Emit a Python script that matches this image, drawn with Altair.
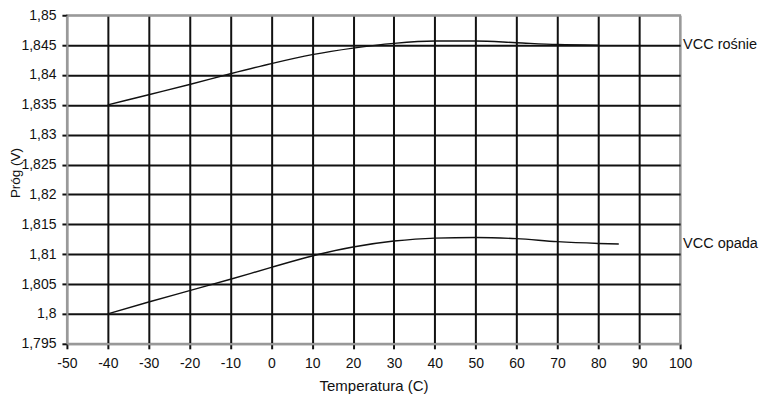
import altair as alt
import pandas as pd

temps_up = [-40, -30, -20, -10, 0, 10, 20, 30, 40, 50, 60, 70, 80]
vcc_up = [1.8350, 1.8367, 1.8384, 1.8402, 1.8419, 1.8434, 1.8445, 1.8453, 1.8457, 1.8457, 1.8454, 1.8451, 1.8450]
temps_down = [-40, -30, -20, -10, 0, 10, 20, 30, 40, 50, 60, 70, 80, 85]
vcc_down = [1.8000, 1.8020, 1.8039, 1.8058, 1.8078, 1.8097, 1.8112, 1.8122, 1.8127, 1.8128, 1.8126, 1.8121, 1.8118, 1.8117]
series_names = ["VCC rośnie", "VCC opada"]
x_ticks = [-50, -40, -30, -20, -10, 0, 10, 20, 30, 40, 50, 60, 70, 80, 90, 100]
y_ticks = [1.795, 1.8, 1.805, 1.81, 1.815, 1.82, 1.825, 1.83, 1.835, 1.84, 1.845, 1.85]

df = pd.concat([
    pd.DataFrame({"t": temps_up, "v": vcc_up, "s": series_names[0]}),
    pd.DataFrame({"t": temps_down, "v": vcc_down, "s": series_names[1]}),
])
ends = pd.DataFrame({"s": series_names, "v": [vcc_up[-1], vcc_down[-1]]})

FONT = "Liberation Sans"
W, H = 614, 329

xscale = alt.Scale(domain=[-50, 100], nice=False, zero=False)
yscale = alt.Scale(domain=[1.795, 1.85], nice=False, zero=False)

xaxis = alt.Axis(
    values=x_ticks, tickCount=len(x_ticks), title="Temperatura (C)", tickSize=5, labelPadding=8,
    labelExpr="toString(datum.value)", labelOverlap=False, labelFlush=False,
    titlePadding=8, labelFontSize=14, titleFontSize=15,
    gridColor=alt.condition("datum.value <= -49.9 || datum.value >= 99.9", alt.value("#999999"), alt.value("#111111")),
)
yaxis = alt.Axis(
    values=y_ticks, tickCount=len(y_ticks), title="Próg (V)", tickSize=5, labelPadding=6,
    labelExpr="replace(format(datum.value, '.4~f'), '.', ',')",
    labelOverlap=False, labelFlush=False,
    labelFontSize=14, titleFontSize=13.5,
    titleX=-51, titleY=H / 2 - 7, titleAngle=-90, titleBaseline="middle", titleAlign="center",
    gridColor=alt.condition("datum.value <= 1.7951 || datum.value >= 1.8499", alt.value("#999999"), alt.value("#111111")),
)

lines = alt.Chart(df).mark_line(color="#111111", strokeWidth=1.4, interpolate="monotone").encode(
    x=alt.X("t:Q", scale=xscale, axis=xaxis),
    y=alt.Y("v:Q", scale=yscale, axis=yaxis),
    detail="s:N",
)

labels = alt.Chart(ends).mark_text(align="left", baseline="middle", font=FONT, fontSize=14.5, color="#111111").encode(
    x=alt.value(W + 3),
    y=alt.Y("v:Q", scale=yscale),
    text="s:N",
)

chart = alt.layer(lines, labels).properties(
    width=W, height=H,
    autosize=alt.AutoSizeParams(type="none"),
    padding={"left": 59, "top": 7, "right": 80, "bottom": 53},
).configure_view(
    stroke="#999999", strokeWidth=2
).configure_axis(
    grid=True, gridWidth=2, gridOpacity=1,
    domainColor="#999999", domainWidth=2,
    tickColor="#111111", tickWidth=2,
    labelFont=FONT, titleFont=FONT, labelColor="#111111", titleColor="#111111",
    titleFontWeight="normal",
)

chart.save("out.html", embed_options={"renderer": "svg", "actions": False})
